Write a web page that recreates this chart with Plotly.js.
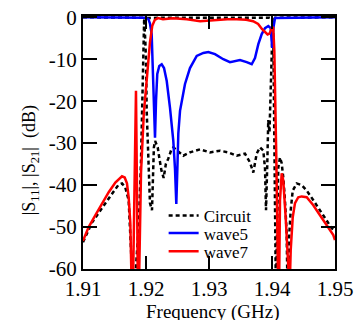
<!DOCTYPE html>
<html>
<head>
<meta charset="utf-8">
<script src="https://cdn.plot.ly/plotly-3.0.1.min.js"></script>
<style>html,body{margin:0;padding:0;background:#fff;}#chart{width:358px;height:320px;}</style>
</head>
<body>
<div id="chart"></div>
<script>
// Tick labels
var xTickVals = [1.91, 1.92, 1.93, 1.94, 1.95];
var xTickText = ["1.91", "1.92", "1.93", "1.94", "1.95"];
var yTickVals = [-60, -50, -40, -30, -20, -10, 0];
var yTickText = ["-60", "-50", "-40", "-30", "-20", "-10", "0"];
var seriesNames = ["Circuit", "wave5", "wave7"];

// Circuit |S21| (GHz, dB)
var circuitS21F = [1.9100,1.9114,1.9130,1.9146,1.9156,1.9162,1.9167,1.91725,1.9175,1.9177,1.9178,1.9181,1.91835,1.91841,1.91866,1.91894,1.91921,1.91940,1.91952,1.91960,1.9197,1.9200,1.9250,1.9300,1.9350,1.9396,1.9400,1.9401,1.94021,1.94032,1.94040,1.94048,1.94058,1.94065,1.94075,1.94084,1.94100,1.94127,1.94154,1.94179,1.94206,1.94233,1.94251,1.94275,1.94297,1.94329,1.94392,1.94471,1.94551,1.94656,1.94762,1.94868,1.94948,1.9500];
var circuitS21 = [-53.6,-49.0,-45.5,-42.0,-40.0,-39.6,-40.5,-43.6,-50.0,-58,-70,-64,-64,-59.5,-53.8,-46.0,-34.1,-22.3,-10.4,-3.0,-0.8,-0.15,-0.1,-0.1,-0.1,-0.1,-0.3,-1.0,-5.0,-20.0,-35.0,-48.0,-60.0,-70.0,-55,-43.6,-35.8,-33.4,-34.8,-38.2,-43.6,-51.5,-70,-51.5,-46.0,-41.3,-39.6,-40.0,-41.3,-43.6,-46.0,-48.4,-50.3,-50.8];

// Circuit |S11|
var circuitS11F = [1.9100,1.9194,1.91968,1.91973,1.91989,1.92000,1.92011,1.92027,1.92043,1.92063,1.92095,1.92110,1.92125,1.92145,1.92186,1.92211,1.92245,1.92280,1.92315,1.92354,1.92408,1.92433,1.92540,1.92592,1.92698,1.92857,1.93016,1.93175,1.93306,1.93440,1.93571,1.93651,1.93703,1.93757,1.93810,1.93862,1.93889,1.93905,1.93925,1.93941,1.93960,1.93985,1.94005,1.94016,1.94050,1.9500];
var circuitS11 = [0,-0.1,-0.5,-0.95,-5.7,-10.4,-22.3,-30.1,-39.6,-44.3,-46,-36,-31,-29.5,-31,-33.5,-36.5,-38.3,-35,-33.7,-31.3,-31,-32.5,-33,-32.2,-31.5,-32.2,-31.8,-32.2,-33,-32.5,-34.6,-37,-32.5,-31,-31.8,-36,-46,-35,-24.5,-27.5,-12,-4,-1,-0.1,0];

// wave5 |S11|
var wave5F = [1.9100,1.91984,1.92037,1.92063,1.92090,1.92106,1.92116,1.92132,1.92143,1.92159,1.92179,1.92211,1.92249,1.92286,1.92329,1.92381,1.92433,1.92460,1.92481,1.92500,1.92513,1.92540,1.92567,1.92619,1.92698,1.92805,1.92910,1.92989,1.93095,1.93227,1.93333,1.93413,1.93492,1.93598,1.93678,1.93730,1.93783,1.93837,1.93889,1.93941,1.93979,1.93995,1.94005,1.94021,1.94048,1.9500];
var wave5S11 = [0,-0.1,-0.4,-1.5,-4,-12,-19.9,-27.7,-28.7,-19.9,-13.5,-11.6,-11.2,-12.1,-15.2,-21.6,-29.4,-36,-44.5,-35,-27.7,-22.3,-19.9,-15.9,-12.1,-9.2,-8.5,-8.3,-8.8,-10,-10.7,-10.4,-10.2,-10.7,-11.2,-9.7,-6.4,-4,-2.6,-2.1,-2.6,-5.7,-7.3,-2.6,-0.2,0];

// wave7 |S21|
var wave7F = [1.9100,1.9109,1.91195,1.91302,1.91408,1.91513,1.91619,1.91662,1.91698,1.91725,1.91751,1.91767,1.91775,1.91790,1.91798,1.91820,1.91841,1.91855,1.91868,1.91875,1.91885,1.91894,1.91921,1.91965,1.92019,1.92063,1.92100,1.92140,1.92190,1.92270,1.92430,1.92650,1.92860,1.93060,1.93290,1.93440,1.93590,1.93700,1.93780,1.93840,1.93900,1.93930,1.93960,1.93990,1.94005,1.94020,1.94037,1.94068,1.94090,1.94105,1.94116,1.94127,1.94154,1.94179,1.94217,1.94259,1.94267,1.94297,1.94329,1.94365,1.94417,1.94471,1.94551,1.94656,1.94762,1.94868,1.94973,1.9500];
var wave7S21 = [-53.3,-50,-47.2,-44.4,-41.7,-39.4,-37.9,-38.2,-39.6,-42.9,-49,-60.2,-72,-66,-60,-36,-17.5,-38,-60,-72,-66,-59.5,-37,-23,-13,-6,-2,-0.6,-0.2,-0.47,-0.24,-0.47,-0.95,-0.71,-0.47,-0.45,-0.6,-0.95,-1.6,-2.8,-3.8,-4.1,-3.9,-3.0,-2.3,-2.5,-8,-33,-58,-72,-59.5,-43.6,-37.2,-38.9,-47.7,-59.5,-72,-55.5,-47.7,-44.3,-42.9,-42.7,-42.9,-44.8,-47.2,-49.6,-51.9,-53.1];

var dotted = {color: "#000000", width: 2.5, dash: "4px,3px"};
var traces = [
  {x: circuitS11F, y: circuitS11, type: "scatter", mode: "lines", name: seriesNames[0], legendgroup: "c", showlegend: true, legend: "legend", line: dotted},
  {x: circuitS21F, y: circuitS21, type: "scatter", mode: "lines", name: seriesNames[0], legendgroup: "c", showlegend: false, line: dotted},
  {x: wave5F, y: wave5S11, type: "scatter", mode: "lines", name: seriesNames[1], legend: "legend2", line: {color: "#0000ff", width: 2.5}},
  {x: wave7F, y: wave7S21, type: "scatter", mode: "lines", name: seriesNames[2], legend: "legend3", line: {color: "#ff0000", width: 2.5}}
];

var fontFam = "Liberation Serif, Times New Roman, serif";
var legendFont = {family: fontFam, size: 17, color: "#000"};
function legendAt(yPos) {
  return {x: 0.32, y: yPos, xanchor: "left", yanchor: "top", bgcolor: "rgba(0,0,0,0)", borderwidth: 0,
          font: legendFont, itemwidth: 30, tracegroupgap: 0};
}
var axisCommon = {
  ticks: "inside", tickwidth: 2, tickcolor: "#000", showline: true, linewidth: 2, linecolor: "#000",
  mirror: "ticks", showgrid: false, zeroline: false, tickfont: {family: fontFam, size: 21, color: "#000"}
};
var layout = {
  width: 358, height: 320,
  margin: {l: 83, r: 23, t: 16, b: 51},
  paper_bgcolor: "#fff", plot_bgcolor: "#fff",
  font: {family: fontFam, color: "#000"},
  showlegend: true,
  legend: legendAt(0.281),
  legend2: legendAt(0.212),
  legend3: legendAt(0.14),
  xaxis: Object.assign({}, axisCommon, {
    range: [1.91, 1.95], tickmode: "array", tickvals: xTickVals, ticktext: xTickText, ticklen: 13
  }),
  yaxis: Object.assign({}, axisCommon, {
    range: [-60, 0.3], tickmode: "array", tickvals: yTickVals, ticktext: yTickText, ticklen: 14
  }),
  annotations: [{
    text: "|S<sub>11</sub>|, |S<sub>21</sub>|\u00a0\u00a0(dB)", xref: "paper", yref: "paper",
    x: -0.21, y: 0.43, xanchor: "center", yanchor: "middle", textangle: -90, showarrow: false,
    font: {family: fontFam, size: 18, color: "#000"}
  }, {
    text: "Frequency (GHz)", xref: "paper", yref: "paper",
    x: 0.515, y: -0.118, xanchor: "center", yanchor: "top", showarrow: false,
    font: {family: fontFam, size: 19, color: "#000"}
  }]
};
Plotly.newPlot("chart", traces, layout, {displayModeBar: false, staticPlot: true});
</script>
</body>
</html>
